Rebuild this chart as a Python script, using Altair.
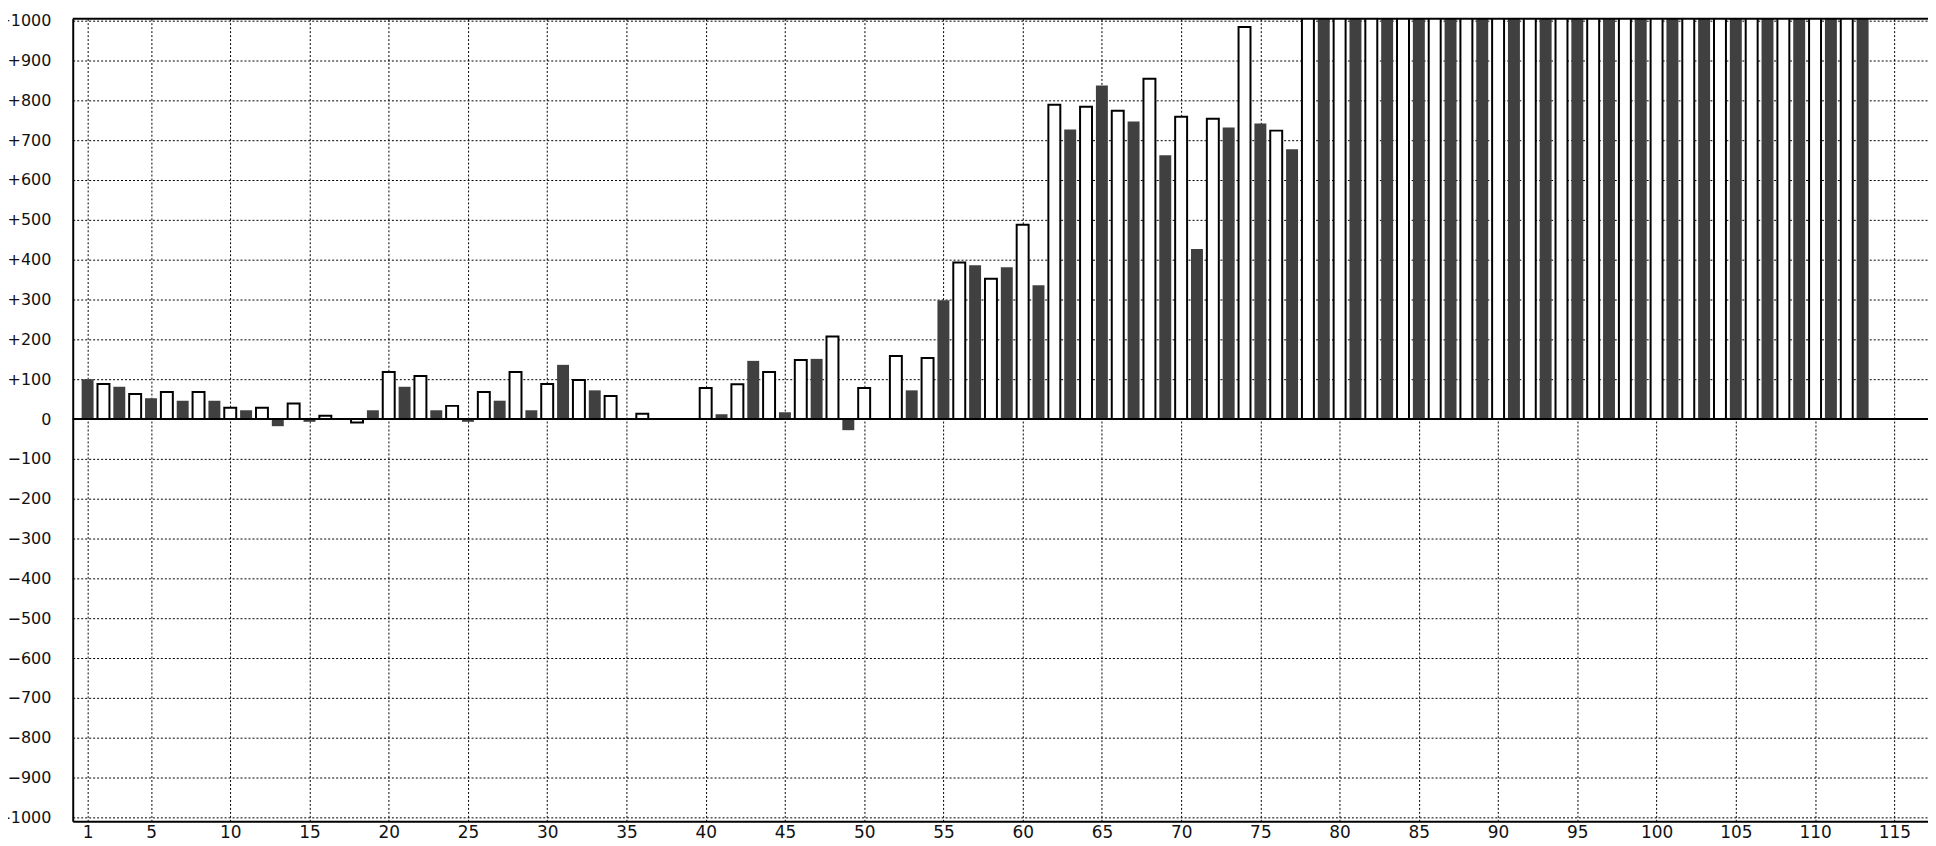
import altair as alt
import pandas as pd

# ---- data ----
positions = list(range(1, 114))
values = [
    100, 88, 81, 63, 52, 68, 46, 68, 46, 28,      # 1-10
    22, 28, -18, 39, -7, 8, None, -9, 22, 118,    # 11-20
    81, 108, 22, 33, -7, 68, 46, 118, 22, 88,     # 21-30
    136, 98, 72, 58, None, 13, None, None, None, 78,  # 31-40
    12, 87, 146, 118, 17, 148, 151, 207, -28, 78,  # 41-50
    None, 158, 72, 153, 298, 393, 386, 352, 381, 488,  # 51-60
    336, 789, 727, 784, 837, 774, 747, 854, 662, 759,  # 61-70
    427, 754, 732, 984, 742, 724, 677,             # 71-77
] + [1100] * 36                                     # 78-113 run off the top

x_ticks = [1] + list(range(5, 116, 5))
y_ticks = list(range(-1000, 1001, 100))

X_DOMAIN = [0.375, 116.8125]
Y_DOMAIN = [-1010, 1005]

df = pd.DataFrame({"pos": positions, "value": values})
df["series"] = ["dark" if p % 2 else "light" for p in positions]

FONT = "DejaVu Sans"
LABEL_COLOR = "#111111"
GRID_DASH = [2, 2]

x_enc = alt.X(
    "pos:Q",
    scale=alt.Scale(domain=X_DOMAIN, nice=False, zero=False),
    axis=alt.Axis(
        values=x_ticks, title=None, ticks=False, grid=True,
        gridColor="black", gridDash=GRID_DASH, gridWidth=1, gridOpacity=1,
        domainColor="black", domainWidth=2,
        labelFont=FONT, labelFontSize=17, labelColor=LABEL_COLOR,
        labelPadding=3, labelFlush=False, labelOverlap=False,
    ),
)
y_enc = alt.Y(
    "value:Q",
    scale=alt.Scale(domain=Y_DOMAIN, nice=False, zero=False),
    axis=alt.Axis(
        values=y_ticks, title=None, ticks=False, grid=True,
        gridColor="black", gridDash=GRID_DASH, gridWidth=1, gridOpacity=1,
        domainColor="black", domainWidth=2,
        labelFont=FONT, labelFontSize=16, labelColor=LABEL_COLOR,
        labelPadding=22, labelOverlap=False, labelFlush=False,
        labelExpr="datum.value > 0 ? '+' + datum.value : (datum.value < 0 ? '\u2212' + abs(datum.value) : '0')",
    ),
)

base = alt.Chart(df).encode(x=x_enc, y=y_enc)

dark = base.transform_filter(alt.datum.series == "dark").mark_bar(
    size=12, color="#404040", clip=True
)
light = base.transform_filter(alt.datum.series == "light").mark_bar(
    size=12, fill="white", stroke="black", strokeWidth=2, clip=True
)

zero_rule = alt.Chart(pd.DataFrame({"value": [0]})).mark_rule(
    color="black", strokeWidth=2
).encode(y="value:Q")

top_rule = alt.Chart(pd.DataFrame({"value": [Y_DOMAIN[1]]})).mark_rule(
    color="black", strokeWidth=2
).encode(y="value:Q")

chart = alt.layer(dark, light, zero_rule, top_rule).properties(
    width=1863,
    height=806,
    autosize=alt.AutoSizeParams(type="none"),
    padding={"left": 65, "top": 9, "right": 0, "bottom": 18},
    background="white",
).configure_view(stroke=None)

chart.save("out.html", embed_options={"renderer": "svg", "actions": False})
